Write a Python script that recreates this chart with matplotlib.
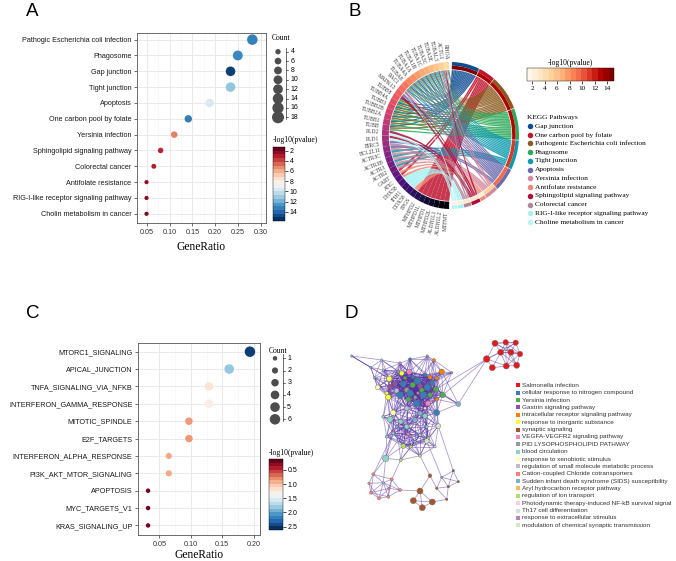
import numpy as np
import matplotlib
matplotlib.use('Agg')
import matplotlib.pyplot as plt
from matplotlib.path import Path
from matplotlib.patches import PathPatch, Wedge
from matplotlib.collections import LineCollection
from matplotlib.colors import Normalize
from matplotlib.cm import ScalarMappable

plt.rcParams['font.family'] = 'Liberation Sans'
SERIF = 'Liberation Serif'
W, H = 676, 561

# ---------------- A: KEGG dot plot
kegg_terms = ['Pathogic Escherichia coli infection', 'Phagosome', 'Gap junction', 'Tight junction',
              'Apoptosis', 'One carbon pool by folate', 'Yersinia infection',
              'Sphingolipid signaling pathway', 'Colorectal cancer', 'Antifolate resistance',
              'RIG-I-like receptor signaling pathway', 'Cholin metabolism in cancer']
kegg_ratio = [0.282, 0.250, 0.234, 0.234, 0.188, 0.141, 0.110, 0.080, 0.065, 0.049, 0.049, 0.049]
kegg_count = [18, 16, 15, 15, 12, 9, 7, 5, 4, 3, 3, 3]
kegg_logp = [13.5, 13.2, 15.4, 11.4, 9.6, 13.6, 4.9, 3.0, 2.8, 2.2, 2.0, 1.7]

# ---------------- C: hallmark dot plot
hall_terms = ['MTORC1_SIGNALING', 'APICAL_JUNCTION', 'TNFA_SIGNALING_VIA_NFKB',
              'INTERFERON_GAMMA_RESPONSE', 'MITOTIC_SPINDLE', 'E2F_TARGETS',
              'INTERFERON_ALPHA_RESPONSE', 'PI3K_AKT_MTOR_SIGNALING', 'APOPTOSIS',
              'MYC_TARGETS_V1', 'KRAS_SIGNALING_UP']
hall_ratio = [0.194, 0.161, 0.129, 0.129, 0.097, 0.097, 0.065, 0.065, 0.032, 0.032, 0.032]
hall_count = [6, 5, 4, 4, 3, 3, 2, 2, 1, 1, 1]
hall_logp = [2.55, 1.85, 1.20, 1.28, 0.82, 0.82, 0.88, 0.88, 0.16, 0.16, 0.16]

# ---------------- B: chord diagram
chord_paths = ['Gap junction', 'One carbon pool by folate', 'Pathogenic Escherichia coli infection',
               'Phagosome', 'Tight junction', 'Apoptosis', 'Yersinia infection',
               'Antifolate resistance', 'Sphingolipid signaling pathway', 'Colorectal cancer',
               'RIG-I-like receptor signaling pathway', 'Choline metabolism in cancer']
chord_kegg_idx = [2, 5, 0, 1, 3, 4, 6, 9, 7, 8, 10, 11]   # row of the same term in panel A
chord_colors = ['#0E4C92', '#C0142F', '#8C5A1E', '#2DAA5A', '#0B9AAE', '#6A6AAE',
                '#D4899E', '#EE8A7A', '#AD0E3A', '#B0879A', '#A6F2F2', '#B8F7F7']
genes = ['RHOA', 'ACTG1', 'TUBAL3', 'TUBA3E', 'TUBA3C', 'TUBA1C', 'TUBA1B', 'TUBA1A', 'TUBA4A',
         'TUBA8', 'RAC1', 'MAPK13', 'TUBB8', 'TUBB4A', 'TUBB3', 'TUBB2B', 'TUBB2A', 'TUBB1', 'TUBB',
         'PLD2', 'PLD1', 'BIRC5', 'BCL2L11', 'ACTR3C', 'ACTR3B', 'ACTR3', 'ACTR2', 'GART', 'ATIC',
         'DHX58', 'IFIH1', 'DDX58', 'FPGS', 'MTHFD2', 'MTHFD1L', 'MTHFD1', 'MTHFD2L', 'ALDH1L1',
         'ALDH1L2', 'MTFMT']
TUBA = ['TUBAL3', 'TUBA3E', 'TUBA3C', 'TUBA1C', 'TUBA1B', 'TUBA1A', 'TUBA4A', 'TUBA8']
TUBB = ['TUBB8', 'TUBB4A', 'TUBB3', 'TUBB2B', 'TUBB2A', 'TUBB1', 'TUBB']
ARP = ['ACTR3C', 'ACTR3B', 'ACTR3', 'ACTR2']
MTHF = ['MTHFD2', 'MTHFD1L', 'MTHFD1', 'MTHFD2L', 'ALDH1L1', 'ALDH1L2', 'MTFMT']
chord_members = [
    TUBA + TUBB,
    ['GART', 'ATIC'] + MTHF,
    ['RHOA', 'ACTG1'] + TUBA + ['RAC1'] + TUBB,
    ['ACTG1'] + TUBA + TUBB,
    ['RHOA', 'ACTG1'] + TUBA + ['RAC1'] + ARP,
    ['ACTG1'] + TUBA + ['MAPK13', 'BIRC5', 'BCL2L11'],
    ['RHOA', 'ACTG1', 'RAC1'] + ARP,
    ['GART', 'ATIC', 'FPGS'],
    ['RHOA', 'RAC1', 'MAPK13', 'PLD2', 'PLD1'],
    ['RHOA', 'RAC1', 'BIRC5', 'BCL2L11'],
    ['DHX58', 'IFIH1', 'DDX58'],
    ['RAC1', 'PLD2', 'PLD1'],
]

# ---------------- D: enrichment network (node positions read in figure pixels)
net_terms = ['Salmonella infection', 'cellular response to nitrogen compound', 'Yersinia infection',
             'Gastrin signaling pathway', 'intracellular receptor signaling pathway',
             'response to inorganic substance', 'synaptic signaling', 'VEGFA-VEGFR2 signaling pathway',
             'PID LYSOPHOSPHOLIPID PATHWAY', 'blood circulation', 'response to xenobiotic stimulus',
             'regulation of small molecule metabolic process', 'Cation-coupled Chloride cotransporters',
             'Sudden infant death syndrome (SIDS) susceptibility', 'Aryl hydrocarbon receptor pathway',
             'regulation of ion transport', 'Photodynamic therapy-induced NF-kB survival signal',
             'Th17 cell differentiation', 'response to extracellular stimulus',
             'modulation of chemical synaptic transmission']
net_colors = ['#E41A1C', '#377EB8', '#4DAF4A', '#984EA3', '#FF7F00', '#FFFF33', '#A65628', '#F781BF',
              '#999999', '#8DD3C7', '#FFFFB3', '#BEBADA', '#FB8072', '#80B1D3', '#FDB462', '#B3DE69',
              '#FCCDE5', '#D9D9D9', '#BC80BD', '#CCEBC5']
nodes = [  # x, y, term, diameter(px), cluster
    (495.0, 343.3, 0, 5, 'S'), (505.7, 342.3, 0, 4.5, 'S'), (515.7, 342.7, 0, 4.5, 'S'),
    (500.7, 352.3, 0, 5, 'S'), (511.0, 352.3, 0, 5, 'S'), (520.0, 354.0, 0, 4.5, 'S'),
    (486.7, 359.0, 0, 5.5, 'S'), (492.3, 367.7, 0, 5, 'S'), (506.3, 366.0, 0, 5, 'S'),
    (516.7, 365.3, 0, 5, 'S'), (505.7, 349.0, 11, 2.5, 'S'),
    (351.7, 356.0, 13, 2, 'M'), (381.7, 360.0, 9, 2, 'M'), (370.7, 367.3, 13, 2, 'M'),
    (383.3, 370.0, 9, 2, 'M'), (374.3, 377.7, 9, 2, 'M'), (377.7, 387.3, 10, 4, 'M'),
    (389.3, 378.7, 5, 4.5, 'M'), (401.7, 373.3, 5, 4, 'M'), (388.3, 397.3, 5, 4.5, 'M'),
    (386.7, 393.3, 5, 3, 'M'), (398.3, 371.7, 8, 2.5, 'M'), (409.3, 371.7, 7, 4.5, 'M'),
    (400.0, 363.3, 18, 2.5, 'M'), (410.0, 359.3, 1, 2.5, 'M'), (427.3, 356.0, 8, 2, 'M'),
    (434.0, 360.0, 4, 2.5, 'M'), (441.7, 371.7, 4, 4.5, 'M'), (430.0, 377.3, 4, 3.5, 'M'),
    (436.7, 378.3, 4, 3, 'M'), (451.7, 372.7, 8, 2, 'M'), (425.0, 375.0, 1, 3, 'M'),
    (413.0, 377.0, 1, 3, 'M'), (405.0, 378.0, 2, 3, 'M'), (432.0, 383.0, 1, 4, 'M'),
    (417.3, 381.0, 1, 5.5, 'M'), (403.3, 384.0, 1, 5, 'M'), (395.0, 384.0, 3, 4, 'M'),
    (390.0, 386.7, 3, 4, 'M'), (412.7, 385.0, 2, 4.5, 'M'), (420.0, 386.0, 3, 4, 'M'),
    (427.3, 387.3, 1, 5.5, 'M'), (436.0, 389.3, 2, 4.5, 'M'), (442.7, 395.0, 2, 4.5, 'M'),
    (406.7, 390.0, 8, 4, 'M'), (396.7, 390.7, 11, 4, 'M'), (410.0, 393.3, 1, 5.5, 'M'),
    (421.7, 390.0, 2, 4, 'M'), (400.0, 395.0, 1, 5.5, 'M'), (423.3, 395.0, 1, 5.5, 'M'),
    (430.0, 395.0, 2, 4, 'M'), (418.0, 393.0, 18, 2.5, 'M'), (415.3, 397.3, 8, 3, 'M'),
    (408.3, 399.3, 2, 4, 'M'), (416.7, 403.3, 1, 5.5, 'M'), (428.0, 403.3, 7, 4.5, 'M'),
    (436.7, 399.3, 4, 3, 'M'), (436.7, 412.7, 1, 5, 'M'), (458.3, 404.0, 13, 4, 'M'),
    (406.7, 408.3, 11, 4, 'M'), (393.3, 412.7, 10, 4.5, 'M'), (420.0, 413.3, 13, 4, 'M'),
    (425.0, 408.3, 16, 2.5, 'M'), (390.0, 419.3, 9, 5, 'M'), (383.3, 416.7, 9, 2.5, 'M'),
    (400.7, 421.7, 9, 4, 'M'), (406.7, 426.7, 9, 4, 'M'), (415.0, 420.0, 13, 4, 'M'),
    (425.0, 416.0, 9, 4, 'M'), (438.3, 426.0, 19, 4, 'M'), (426.7, 426.7, 9, 2.5, 'M'),
    (396.7, 426.7, 13, 2.5, 'M'), (386.7, 436.7, 9, 2.5, 'M'), (393.3, 433.3, 9, 2.5, 'M'),
    (408.3, 434.0, 7, 2.5, 'M'), (420.0, 435.0, 9, 2.5, 'M'), (428.3, 438.3, 15, 2.5, 'M'),
    (403.3, 446.0, 15, 4, 'M'), (410.7, 446.7, 15, 2.5, 'M'), (426.7, 441.0, 19, 4, 'M'),
    (420.0, 455.7, 15, 2.5, 'M'), (400.7, 460.0, 15, 2.5, 'M'), (385.7, 458.3, 9, 5.5, 'M'),
    (415.0, 441.7, 9, 2, 'M'), (398.3, 440.0, 9, 2, 'M'), (435.0, 446.7, 19, 2, 'M'),
    (373.3, 474.3, 12, 2.5, 'C'), (369.0, 483.3, 12, 2, 'C'), (371.0, 492.7, 12, 2.5, 'C'),
    (379.0, 498.3, 12, 2.5, 'C'), (388.3, 496.7, 12, 2.5, 'C'), (389.0, 488.3, 12, 2, 'C'),
    (391.7, 479.3, 12, 2.5, 'C'), (400.0, 490.0, 12, 2.5, 'C'), (383.3, 482.7, 11, 2, 'C'),
    (430.0, 475.7, 6, 3, 'B'), (420.0, 491.0, 6, 5, 'B'), (413.3, 500.7, 6, 5, 'B'),
    (422.3, 507.7, 6, 5, 'B'), (432.3, 502.0, 6, 5, 'B'),
    (453.3, 470.7, 6, 2, 'G'), (458.3, 481.7, 6, 2, 'G'), (448.3, 486.7, 6, 2, 'G'),
    (446.7, 499.3, 6, 2, 'G'), (436.7, 488.3, 6, 2, 'G'), (441.7, 477.3, 13, 2, 'G'),
]
link_range = {'S': 22, 'M': 27, 'C': 20, 'B': 20, 'G': 20}
cross_links = [((442.7, 395.0), (486.7, 359.0)), ((436.0, 389.3), (486.7, 359.0)),
               ((458.3, 404.0), (486.7, 359.0)), ((351.7, 356.0), (381.7, 360.0)),
               ((351.7, 356.0), (389.3, 378.7)), ((351.7, 356.0), (370.7, 367.3)),
               ((385.7, 458.3), (383.3, 482.7)), ((385.7, 458.3), (373.3, 474.3)),
               ((400.7, 460.0), (391.7, 479.3)), ((420.0, 455.7), (430.0, 475.7)),
               ((400.0, 490.0), (420.0, 491.0)), ((432.3, 502.0), (446.7, 499.3)),
               ((430.0, 475.7), (436.7, 488.3)), ((438.3, 426.0), (453.3, 470.7)),
               ((426.7, 441.0), (441.7, 477.3)), ((393.3, 433.3), (373.3, 474.3)),
               ((458.3, 404.0), (442.7, 395.0)), ((441.7, 371.7), (458.3, 404.0)),
               ((385.7, 458.3), (400.0, 395.0)), ((390.0, 419.3), (417.3, 381.0)),
               ((403.3, 446.0), (410.0, 393.3)), ((426.7, 441.0), (427.3, 387.3))]


def px_rect(x0, y0, x1, y1):
    return [x0 / W, 1 - y1 / H, (x1 - x0) / W, (y1 - y0) / H]


def diam(c, cmin, cmax, dmin, dmax):
    c = np.asarray(c, float)
    return np.sqrt(dmin ** 2 + (c - cmin) / (cmax - cmin) * (dmax ** 2 - dmin ** 2))


def area(d_px):
    return (np.asarray(d_px) * 0.72) ** 2


fig = plt.figure(figsize=(W / 100, H / 100), dpi=100)
ov = fig.add_axes([0, 0, 1, 1])
ov.set_xlim(0, W)
ov.set_ylim(H, 0)
ov.axis('off')
ov.patch.set_visible(False)

for lab, x, y in [('A', 26, 16), ('B', 349, 16), ('C', 26, 318), ('D', 345, 318)]:
    ov.text(x, y, lab, fontsize=13.5, va='baseline', ha='left')


def dotplot(box, terms, ratio, count, logp, xlim, xticks, ylim, norm, size_args, lpad):
    ax = fig.add_axes(px_rect(*box))
    y = np.arange(len(terms))
    ax.scatter(ratio, y, s=area(diam(count, *size_args)), c=logp, cmap='RdBu', norm=norm,
               lw=0, zorder=3)
    ax.set_yticks(y)
    ax.set_yticklabels(terms, fontsize=5.2, color='#1a1a1a')
    ax.set_xticks(xticks)
    ax.set_xticklabels(['%.2f' % t for t in xticks], fontsize=5.2, color='#333333')
    ax.set_xticks((np.array(xticks[:-1]) + np.array(xticks[1:])) / 2, minor=True)
    ax.set_xlim(*xlim)
    ax.set_ylim(*ylim)
    ax.grid(True, which='major', color='#E6E6E6', lw=0.6)
    ax.grid(True, which='minor', axis='x', color='#F3F3F3', lw=0.4)
    ax.set_axisbelow(True)
    ax.tick_params(length=2, width=0.5, color='#333333', pad=2)
    ax.tick_params(which='minor', length=0)
    for sp in ax.spines.values():
        sp.set_color('#555555')
        sp.set_linewidth(0.6)
    ax.set_xlabel('GeneRatio', fontsize=8.3, family=SERIF, labelpad=lpad)
    return ax


def count_legend(title_xy, cx, ys, vals, d, bar_x):
    ov.text(title_xy[0], title_xy[1], 'Count', family=SERIF, fontsize=5.5, ha='center', va='center')
    ov.scatter([cx] * len(ys), ys, s=area(d), color='#4D4D4D', lw=0)
    ov.plot([bar_x, bar_x], [ys[0] - 4, ys[-1] + 2], color='#333333', lw=0.5)
    for y, v in zip(ys, vals):
        ov.plot([bar_x, bar_x + 2.2], [y, y], color='#333333', lw=0.5)
        ov.text(bar_x + 4.5, y, str(v), fontsize=5, va='center', ha='left')


def vbar(box, norm, ticks, fmt, title_xy):
    cax = fig.add_axes(px_rect(*box))
    cb = fig.colorbar(ScalarMappable(norm=norm, cmap=plt.get_cmap('RdBu').resampled(20)), cax=cax)
    cax.invert_yaxis()
    cb.set_ticks(ticks)
    cb.set_ticklabels([fmt % t for t in ticks])
    cax.tick_params(length=1.8, width=0.5, labelsize=5, pad=1.5)
    cb.outline.set_linewidth(0.3)
    ov.text(title_xy[0], title_xy[1], '-log10(pvalue)', family=SERIF, fontsize=5.5,
            ha='left', va='center')


# ---- panel A
normA = Normalize(1.3, 15.8)
dotplot((137, 33, 265.5, 223.3), kegg_terms, kegg_ratio, kegg_count, kegg_logp,
        (0.028, 0.311), [0.05, 0.10, 0.15, 0.20, 0.25, 0.30], (11.6, -0.42), normA,
        (3, 18, 4.2, 10.5), 4)
legA = [4, 6, 8, 10, 12, 14, 16, 18]
count_legend((281.5, 38), 278, np.linspace(51.7, 117.3, len(legA)), legA,
             diam(legA, 3, 18, 4.5, 12), 286)
vbar((273, 147, 285, 221), normA, [2, 4, 6, 8, 10, 12, 14], '%d', (272.5, 139.5))

# ---- panel C
normC = Normalize(0.113, 2.62)
dotplot((138, 343, 260, 535), hall_terms, hall_ratio, hall_count, hall_logp,
        (0.016, 0.21), [0.05, 0.10, 0.15, 0.20], (10.55, -0.5), normC, (1, 6, 4.5, 10.5), 1)
legC = [1, 2, 3, 4, 5, 6]
count_legend((278, 350.7), 275, np.linspace(358.3, 419.3, len(legC)), legC,
             diam(legC, 1, 6, 4.5, 10.5), 282.7)
vbar((269, 459, 283, 530), normC, [0.5, 1.0, 1.5, 2.0, 2.5], '%.1f', (269, 453))

# ---- panel B: chord diagram in an ellipse-stretched axes
cxp, cyp, rx, ry = 450.5, 135.5, 68.5, 73.5
axB = fig.add_axes(px_rect(cxp - 1.6 * rx, cyp - 1.6 * ry, cxp + 1.6 * rx, cyp + 1.6 * ry))
axB.set_xlim(-1.6, 1.6)
axB.set_ylim(-1.6, 1.6)
axB.axis('off')
axB.patch.set_visible(False)

ng, npw = len(genes), len(chord_paths)
half_gap, sec_gap, r0 = 1.2, 0.5, 0.89
gene_w = (180 - 2 * half_gap) / ng
gene_start = [90 + half_gap + i * gene_w for i in range(ng)]
n_links = sum(len(m) for m in chord_members)
unit = (180 - 2 * half_gap - sec_gap * (npw - 1)) / n_links
path_hi = []
hi = 90 - half_gap
for m in chord_members:
    path_hi.append(hi)
    hi -= unit * len(m) + sec_gap

gene_links = {g: [j for j in range(npw) if g in chord_members[j]] for g in genes}
normB = Normalize(1.2, 15.1)
cmapB = plt.get_cmap('OrRd')
magma = plt.get_cmap('magma')


def pol(r, a):
    return r * np.cos(np.radians(a)), r * np.sin(np.radians(a))


def ctrl(a, b):
    p, q = np.array(pol(r0, a)), np.array(pol(r0, b))
    return tuple((p + q) / 2 * 0.3)


for j in range(npw):
    members = sorted(chord_members[j], key=genes.index)
    for m, g in enumerate(members):
        b_hi = path_hi[j] - m * unit
        b_lo = b_hi - unit
        i = genes.index(g)
        k = len(gene_links[g])
        slot = gene_links[g].index(j)
        a_lo = gene_start[i] + slot * gene_w / k
        a_hi = a_lo + gene_w / k
        arc_a = [pol(r0, t) for t in np.linspace(a_lo, a_hi, 6)]
        arc_b = [pol(r0, t) for t in np.linspace(b_lo, b_hi, 6)]
        verts = arc_a + [ctrl(a_hi, b_lo), arc_b[0]] + arc_b[1:] + [ctrl(b_hi, a_lo), arc_a[0]]
        codes = ([Path.MOVETO] + [Path.LINETO] * 5 + [Path.CURVE3] * 2 + [Path.LINETO] * 5
                 + [Path.CURVE3] * 2)
        axB.add_patch(PathPatch(Path(verts, codes), fc=chord_colors[j], ec='none', alpha=0.85,
                                zorder=2))

for i, g in enumerate(genes):
    val = 0.93 * (1 - i / (ng - 1))
    axB.add_patch(Wedge((0, 0), 1.0, gene_start[i], gene_start[i] + gene_w, width=0.1,
                        fc=magma(val), ec='none', zorder=3))
    mid = gene_start[i] + gene_w / 2
    x, y = pol(1.04, mid)
    phi = np.degrees(np.arctan2(ry * np.sin(np.radians(mid)), rx * np.cos(np.radians(mid))))
    axB.text(x, y, g, rotation=phi - 180, rotation_mode='anchor', ha='right', va='center',
             family=SERIF, fontsize=4, color='#333333')

for j in range(npw):
    lo = path_hi[j] - unit * len(chord_members[j])
    axB.add_patch(Wedge((0, 0), 1.0, lo, path_hi[j], width=0.05, fc=chord_colors[j],
                        ec='none', zorder=3))
    axB.add_patch(Wedge((0, 0), 0.95, lo, path_hi[j], width=0.05,
                        fc=cmapB(normB(kegg_logp[chord_kegg_idx[j]])), ec='none', zorder=3))

caxB = fig.add_axes(px_rect(527, 68, 614, 81))
cbB = fig.colorbar(ScalarMappable(norm=normB, cmap=cmapB.resampled(16)), cax=caxB,
                   orientation='horizontal')
cbB.set_ticks([2, 4, 6, 8, 10, 12, 14])
caxB.tick_params(length=1.8, width=0.5, labelsize=5.2, pad=1.5)
for t in caxB.get_xticklabels():
    t.set_family(SERIF)
cbB.outline.set_linewidth(0.3)
ov.text(570.5, 62.5, '-log10(pvalue)', family=SERIF, fontsize=5.5, ha='center', va='center')

ov.text(527, 117.5, 'KEGG Pathways', family=SERIF, fontsize=5.3, ha='left', va='center')
for k, (name, col) in enumerate(zip(chord_paths, chord_colors)):
    yk = 126 + 8.73 * k
    ov.scatter([530], [yk], s=area(5.5), color=col, lw=0)
    ov.text(535, yk, name, family=SERIF, fontsize=5.3, ha='left', va='center')

# ---- panel D: network
nx = np.array([n[0] for n in nodes])
ny = np.array([n[1] for n in nodes])
ncat = [n[2] for n in nodes]
nsize = np.array([n[3] for n in nodes]) * 1.2
ngrp = [n[4] for n in nodes]
segs = []
for grp, thr in link_range.items():
    idx = [i for i, g in enumerate(ngrp) if g == grp]
    for a in range(len(idx)):
        for b in range(a + 1, len(idx)):
            p, q = idx[a], idx[b]
            if np.hypot(nx[p] - nx[q], ny[p] - ny[q]) < thr:
                segs.append([(nx[p], ny[p]), (nx[q], ny[q])])


def nearest(pt):
    return int(np.argmin(np.hypot(nx - pt[0], ny - pt[1])))


for p, q in cross_links:
    a, b = nearest(p), nearest(q)
    segs.append([(nx[a], ny[a]), (nx[b], ny[b])])
ov.add_collection(LineCollection(segs, colors='#4E2A9E', linewidths=0.55, alpha=0.5, zorder=2))
order = np.argsort(nsize)
ov.scatter(nx[order], ny[order], s=area(nsize[order]), c=[net_colors[ncat[i]] for i in order],
           edgecolors='#666666', linewidths=0.3, zorder=3)

for k, (name, col) in enumerate(zip(net_terms, net_colors)):
    yk = 385.3 + 7.37 * k
    ov.scatter([517.7], [yk], s=area(4.3), marker='s', color=col, lw=0)
    ov.text(521.7, yk, name, fontsize=4.6, ha='left', va='center', color='#333333')

fig.savefig('out.png', dpi=100)
